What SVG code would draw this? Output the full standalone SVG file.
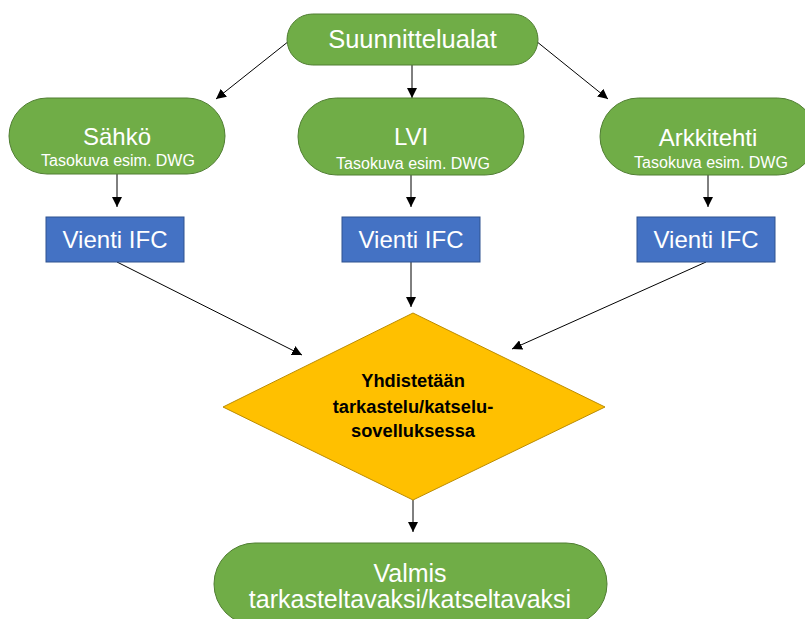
<svg xmlns="http://www.w3.org/2000/svg" width="805" height="619" viewBox="0 0 805 619">
<defs>
<marker id="ah" viewBox="0 0 10 10" refX="10" refY="5" markerWidth="10" markerHeight="10" markerUnits="userSpaceOnUse" orient="auto">
<path d="M0,0 L10,5 L0,10 z" fill="#000"/>
</marker>
<style>
.g{fill:#70AD47;stroke:#507E32;stroke-width:1}
.b{fill:#4472C4;stroke:#2F528F;stroke-width:1}
.y{fill:#FFC000;stroke:#BC8C00;stroke-width:1}
.t{font-family:"Liberation Sans",Arial,sans-serif;fill:#fff;text-anchor:middle}
.big{font-size:24px}
.sub{font-size:16px}
.d{font-family:"Liberation Sans",Arial,sans-serif;font-weight:bold;font-size:18.3px;fill:#000;text-anchor:middle}
.c{stroke:#000;stroke-width:1;fill:none;marker-end:url(#ah)}
</style>
</defs>
<rect width="805" height="619" fill="#fff"/>
<g id="connectors">
<line class="c" x1="412" y1="65" x2="412" y2="98"/>
<line class="c" x1="289" y1="41" x2="216" y2="99"/>
<line class="c" x1="536" y1="41" x2="608" y2="99"/>
<line class="c" x1="117" y1="174" x2="117" y2="207"/>
<line class="c" x1="411" y1="175" x2="411" y2="207"/>
<line class="c" x1="708" y1="175" x2="708" y2="207"/>
<line class="c" x1="117" y1="262" x2="302" y2="355"/>
<line class="c" x1="411" y1="262" x2="411" y2="307"/>
<line class="c" x1="706" y1="262" x2="512" y2="349"/>
<line class="c" x1="413" y1="500" x2="413" y2="532"/>
</g>
<g id="suunnittelualat">
<rect class="g" x="287" y="14" width="251" height="51" rx="25.5"/>
<text class="t" x="412.5" y="48" font-size="25.5">Suunnittelualat</text>
</g>
<g id="sahko">
<rect class="g" x="9" y="98" width="216" height="76" rx="38"/>
<text class="t big" x="117" y="145">Sähkö</text>
<text class="t sub" x="118" y="166">Tasokuva esim. DWG</text>
</g>
<g id="lvi">
<rect class="g" x="298" y="98" width="226" height="77" rx="38.5"/>
<text class="t big" x="411" y="145">LVI</text>
<text class="t sub" x="413" y="169">Tasokuva esim. DWG</text>
</g>
<g id="arkkitehti">
<rect class="g" x="600" y="98" width="216" height="77" rx="38.5"/>
<text class="t big" x="708" y="146">Arkkitehti</text>
<text class="t sub" x="711" y="168">Tasokuva esim. DWG</text>
</g>
<g id="vienti1">
<rect class="b" x="46" y="217" width="138" height="45"/>
<text class="t big" x="115" y="248">Vienti IFC</text>
</g>
<g id="vienti2">
<rect class="b" x="342" y="217" width="138" height="45"/>
<text class="t big" x="411" y="248">Vienti IFC</text>
</g>
<g id="vienti3">
<rect class="b" x="637" y="217" width="138" height="45"/>
<text class="t big" x="706" y="248">Vienti IFC</text>
</g>
<g id="yhdistetaan">
<polygon class="y" points="413,313 605,407 413,500 223,407"/>
<text class="d" x="413" y="387">Yhdistetään</text>
<text class="d" x="413" y="413">tarkastelu/katselu-</text>
<text class="d" x="413" y="437">sovelluksessa</text>
</g>
<g id="valmis">
<rect class="g" x="214" y="543" width="393" height="82" rx="41"/>
<text class="t" x="410" y="582" font-size="25">Valmis</text>
<text class="t" x="410" y="608" font-size="25">tarkasteltavaksi/katseltavaksi</text>
</g>
</svg>
